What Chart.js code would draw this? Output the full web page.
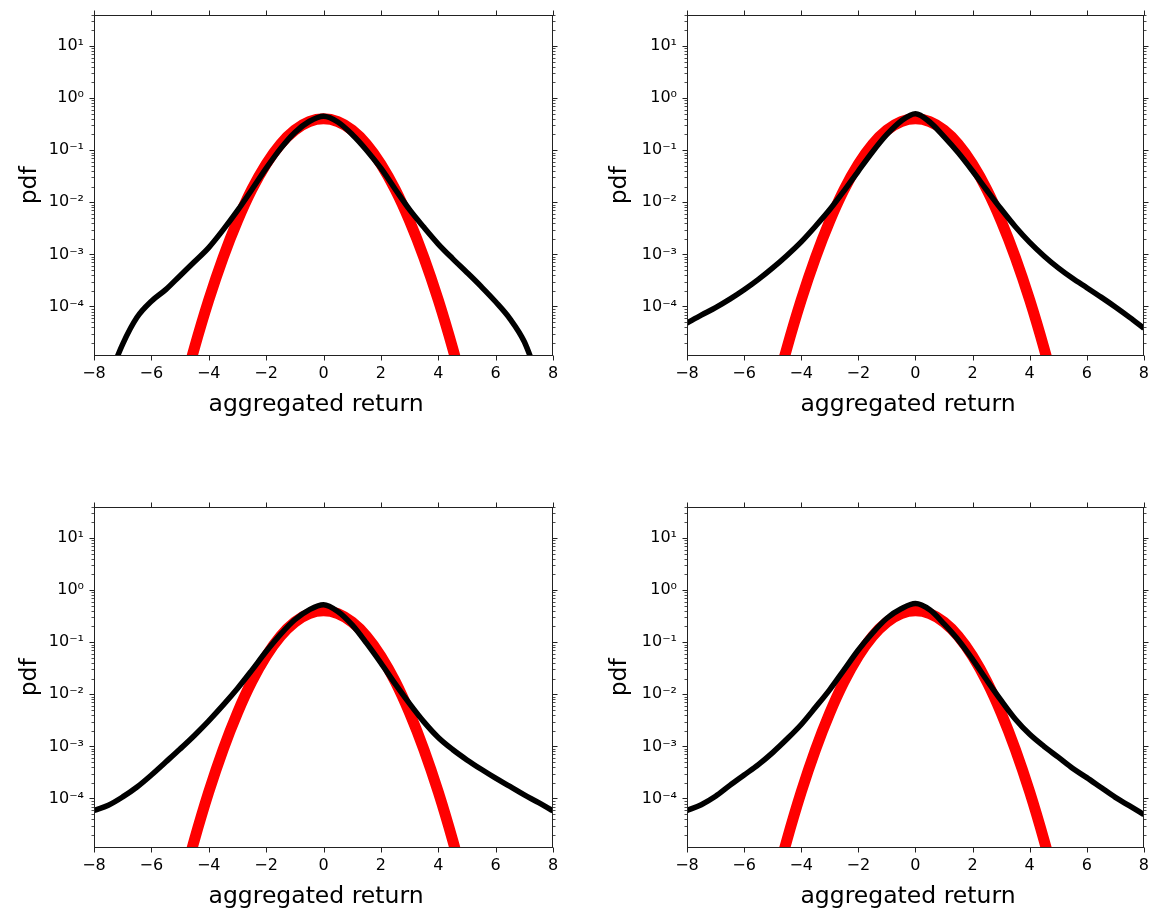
<!DOCTYPE html>
<html>
<head>
<meta charset="utf-8">
<script src="https://cdn.jsdelivr.net/npm/chart.js@4.4.1/dist/chart.umd.min.js"></script>
<style>
  html, body { margin: 0; padding: 0; background: #fff; width: 1152px; height: 913px; overflow: hidden; }
  canvas { position: absolute; }
</style>
</head>
<body>
<canvas id="p1" width="576" height="420" style="left:0;top:0"></canvas>
<canvas id="p2" width="576" height="420" style="left:576px;top:0"></canvas>
<canvas id="p3" width="576" height="420" style="left:0;top:492px"></canvas>
<canvas id="p4" width="576" height="420" style="left:576px;top:492px"></canvas>
<script>
// x positions of the empirical curves
const returnGrid = [-8, -7.5, -7, -6.5, -6, -5.5, -5, -4.5, -4, -3.5, -3, -2.5, -2, -1.5, -1, -0.5,
  0, 0.5, 1, 1.5, 2, 2.5, 3, 3.5, 4, 4.5, 5, 5.5, 6, 6.5, 7, 7.5, 8];

// empirical pdf of the aggregated returns, one list per panel (black)
const panel1Pdf = [null, 4e-6, 1.9e-5, 6.2e-5, 1.26e-4, 2.1e-4, 3.9e-4, 7.2e-4, 1.35e-3, 2.95e-3, 6.9e-3, 0.0174, 0.0447, 0.107, 0.219, 0.355,
  0.447, 0.347, 0.2, 0.1, 0.045, 0.0178, 7.2e-3, 3.3e-3, 1.58e-3, 8.3e-4, 4.5e-4, 2.4e-4, 1.23e-4, 5.8e-5, 2.1e-5, 4e-6, null];
const panel2Pdf = [4.8e-5, 6.8e-5, 9.5e-5, 1.38e-4, 2.09e-4, 3.31e-4, 5.5e-4, 9.55e-4, 1.74e-3, 3.47e-3, 7.24e-3, 0.0166, 0.0398, 0.0933, 0.2, 0.363,
  0.501, 0.347, 0.182, 0.0891, 0.0398, 0.017, 7.41e-3, 3.39e-3, 1.7e-3, 9.33e-4, 5.5e-4, 3.47e-4, 2.29e-4, 1.51e-4, 9.77e-5, 6.17e-5, 3.8e-5];
const panel3Pdf = [5.9e-5, 7.4e-5, 1.07e-4, 1.66e-4, 2.82e-4, 5.0e-4, 8.9e-4, 1.62e-3, 3.09e-3, 6.17e-3, 0.0129, 0.0288, 0.0661, 0.141, 0.269, 0.417,
  0.525, 0.389, 0.214, 0.0955, 0.0398, 0.0158, 6.61e-3, 2.95e-3, 1.48e-3, 8.7e-4, 5.5e-4, 3.63e-4, 2.45e-4, 1.7e-4, 1.17e-4, 8.3e-5, 5.75e-5];
const panel4Pdf = [5.9e-5, 7.6e-5, 1.1e-4, 1.78e-4, 2.82e-4, 4.47e-4, 7.6e-4, 1.38e-3, 2.63e-3, 5.62e-3, 0.0123, 0.0295, 0.0708, 0.151, 0.288, 0.437,
  0.55, 0.417, 0.224, 0.11, 0.0468, 0.0186, 7.6e-3, 3.31e-3, 1.7e-3, 1.0e-3, 6.2e-4, 3.8e-4, 2.51e-4, 1.62e-4, 1.05e-4, 7.2e-5, 4.9e-5];

// gaussian reference (red), same in every panel
const gaussX = [-5, -4.5, -4, -3.5, -3, -2.5, -2, -1.5, -1, -0.5, 0, 0.5, 1, 1.5, 2, 2.5, 3, 3.5, 4, 4.5, 5];
const gaussPdf = [1.5e-6, 1.6e-5, 1.34e-4, 8.7e-4, 4.4e-3, 0.0175, 0.054, 0.13, 0.242, 0.352, 0.399,
  0.352, 0.242, 0.13, 0.054, 0.0175, 4.4e-3, 8.7e-4, 1.34e-4, 1.6e-5, 1.5e-6];

// axes
const xTicks = [-8, -6, -4, -2, 0, 2, 4, 6, 8];
const yTicks = [1e-4, 1e-3, 1e-2, 1e-1, 1, 10];
const yTickLabels = ['10⁻⁴', '10⁻³', '10⁻²', '10⁻¹', '10⁰', '10¹'];
const xRange = [-8, 8];
const yRange = [1.12e-5, 40];

Chart.defaults.font.family = "'DejaVu Sans', sans-serif";
Chart.defaults.color = '#000';

function toPoints(xs, ys) {
  return xs.map((x, i) => ({ x: x, y: ys[i] }));
}

// box, mirrored ticks and log minor ticks, like matplotlib's
const frameTicks = {
  id: 'frameTicks',
  afterDraw(chart) {
    const { ctx, chartArea: a, scales } = chart;
    const xs = scales.x, ys = scales.y;
    const L = Math.round(a.left) + 0.5, R = Math.round(a.right) - 0.5;
    const T = Math.round(a.top) + 0.5, B = Math.round(a.bottom) - 0.5;
    ctx.save();
    ctx.strokeStyle = '#222';
    ctx.lineWidth = 1;
    ctx.strokeRect(L, T, R - L, B - T);
    ctx.beginPath();
    xTicks.forEach(v => {
      const px = Math.round(xs.getPixelForValue(v)) + 0.5;
      ctx.moveTo(px, B); ctx.lineTo(px, B + 5);
      ctx.moveTo(px, T); ctx.lineTo(px, T - 5);
    });
    yTicks.forEach(v => {
      const py = Math.round(ys.getPixelForValue(v)) + 0.5;
      ctx.moveTo(L, py); ctx.lineTo(L - 5, py);
      ctx.moveTo(R, py); ctx.lineTo(R + 5, py);
    });
    ctx.stroke();
    ctx.beginPath();
    ctx.lineWidth = 0.8;
    for (let k = -6; k <= 1; k++) {
      for (let m = 2; m <= 9; m++) {
        const v = m * Math.pow(10, k);
        if (v < yRange[0] || v > yRange[1]) continue;
        const py = Math.round(ys.getPixelForValue(v)) + 0.5;
        ctx.moveTo(L, py); ctx.lineTo(L - 3, py);
        ctx.moveTo(R, py); ctx.lineTo(R + 3, py);
      }
    }
    ctx.stroke();
    ctx.restore();
  }
};

const panels = [
  { id: 'p1', pdf: panel1Pdf, axisWidth: 94, padRight: 23, titlePad: 15.5 },
  { id: 'p2', pdf: panel2Pdf, axisWidth: 111, padRight: 6, titlePad: 30 },
  { id: 'p3', pdf: panel3Pdf, axisWidth: 94, padRight: 23, titlePad: 15.5 },
  { id: 'p4', pdf: panel4Pdf, axisWidth: 111, padRight: 6, titlePad: 30 }
];

panels.forEach(p => {
  new Chart(document.getElementById(p.id), {
    type: 'line',
    data: {
      datasets: [
        {
          label: 'empirical',
          data: toPoints(returnGrid, p.pdf),
          borderColor: '#000',
          borderWidth: 5.5,
          pointRadius: 0,
          cubicInterpolationMode: 'monotone',
          borderJoinStyle: 'round',
          clip: 0,
          order: 0
        },
        {
          label: 'gaussian',
          data: toPoints(gaussX, gaussPdf),
          borderColor: '#ff0000',
          borderWidth: 11,
          pointRadius: 0,
          cubicInterpolationMode: 'monotone',
          borderJoinStyle: 'round',
          clip: 0,
          order: 1
        }
      ]
    },
    options: {
      responsive: false,
      animation: false,
      devicePixelRatio: 1,
      layout: { padding: { top: 14, right: p.padRight, bottom: 0, left: 0 } },
      plugins: { legend: { display: false }, tooltip: { enabled: false } },
      scales: {
        x: {
          type: 'linear',
          min: xRange[0],
          max: xRange[1],
          afterFit: s => { s.height = 64; },
          afterBuildTicks: s => { s.ticks = xTicks.map(v => ({ value: v })); },
          grid: { display: false, drawTicks: true, tickLength: 5 },
          border: { display: false },
          ticks: {
            padding: 3,
            font: { size: 16 },
            maxRotation: 0,
            callback: v => String(v).replace('-', '−')
          },
          title: {
            display: true,
            text: 'aggregated return  ',
            font: { size: 23.5 },
            padding: { top: 0, bottom: 1 }
          }
        },
        y: {
          type: 'logarithmic',
          min: yRange[0],
          max: yRange[1],
          afterFit: s => { s.width = p.axisWidth; },
          afterBuildTicks: s => { s.ticks = yTicks.map(v => ({ value: v })); },
          grid: { display: false, drawTicks: true, tickLength: 5 },
          border: { display: false },
          ticks: {
            padding: 5,
            font: { size: 16 },
            callback: v => yTickLabels[yTicks.indexOf(v)] ?? ''
          },
          title: {
            display: true,
            text: 'pdf',
            font: { size: 23.5 },
            padding: { top: p.titlePad, bottom: 0 }
          }
        }
      }
    },
    plugins: [frameTicks]
  });
});
</script>
</body>
</html>
